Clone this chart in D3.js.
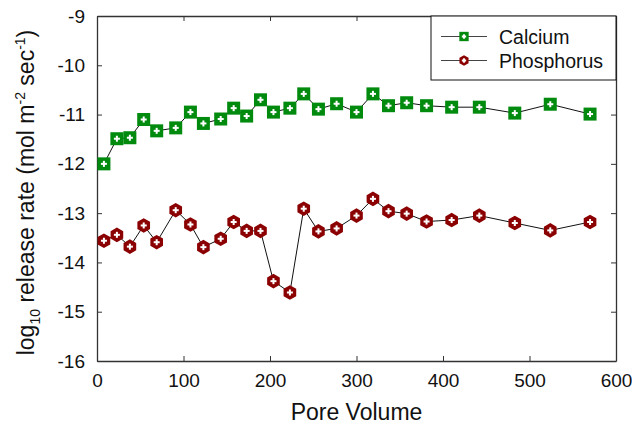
<!DOCTYPE html>
<html>
<head>
<meta charset="utf-8">
<script src="https://cdn.jsdelivr.net/npm/d3@7"></script>
<style>
  body { margin: 0; background: #fff; }
  svg { font-family: "Liberation Sans", Arial, sans-serif; }
</style>
</head>
<body>
<div id="chart"></div>
<script>
// data
var poreVolume = [8, 23, 38, 54, 69, 91, 108, 123, 143, 158, 173, 189, 204, 223, 239, 256, 277, 300, 319, 337, 358, 381, 410, 442, 483, 524, 570];
var calcium = [-12.0, -11.49, -11.47, -11.10, -11.33, -11.27, -10.95, -11.18, -11.09, -10.87, -11.03, -10.70, -10.95, -10.87, -10.58, -10.89, -10.78, -10.95, -10.58, -10.82, -10.76, -10.82, -10.85, -10.85, -10.97, -10.79, -10.99];
var phosphorus = [-13.56, -13.44, -13.68, -13.25, -13.59, -12.94, -13.23, -13.69, -13.52, -13.18, -13.36, -13.36, -14.38, -14.61, -12.91, -13.37, -13.31, -13.05, -12.71, -12.96, -13.01, -13.17, -13.14, -13.05, -13.20, -13.35, -13.18];
var xTicks = [0, 100, 200, 300, 400, 500, 600];
var yTicks = [-16, -15, -14, -13, -12, -11, -10, -9];

// set the dimensions and margins of the graph
var margin = {top: 16, right: 16, bottom: 67, left: 97},
    width = 632 - margin.left - margin.right,
    height = 428 - margin.top - margin.bottom;

var x = d3.scaleLinear().domain([0, 600]).range([0, width]);
var y = d3.scaleLinear().domain([-16, -9]).range([height, 0]);

var svg = d3.select("#chart").append("svg")
    .attr("width", 632)
    .attr("height", 428)
  .append("g")
    .attr("transform", "translate(" + margin.left + "," + margin.top + ")");

var axisColor = "#333";
var plain = function(d) { return String(d); };

// axes, ticks pointing inward
var xAxis = svg.append("g")
    .attr("transform", "translate(0," + height + ")")
    .call(d3.axisBottom(x).tickValues(xTicks).tickFormat(plain).tickSizeInner(-5).tickSizeOuter(0).tickPadding(13));
var xTop = svg.append("g")
    .call(d3.axisTop(x).tickValues(xTicks).tickSizeInner(-5).tickSizeOuter(0).tickFormat(""));
var yAxis = svg.append("g")
    .call(d3.axisLeft(y).tickValues(yTicks).tickFormat(plain).tickSizeInner(-5).tickSizeOuter(0).tickPadding(12));
var yRight = svg.append("g")
    .attr("transform", "translate(" + width + ",0)")
    .call(d3.axisRight(y).tickValues(yTicks).tickSizeInner(-5).tickSizeOuter(0).tickFormat(""));

[xAxis, xTop, yAxis, yRight].forEach(function(a) {
    a.select(".domain").attr("stroke", axisColor).attr("stroke-width", 1.3);
    a.selectAll(".tick line").attr("stroke", axisColor);
    a.selectAll(".tick text").attr("font-size", 19).attr("fill", "#111");
});

// axis titles
svg.append("text")
    .attr("x", width / 2)
    .attr("y", height + 59)
    .attr("text-anchor", "middle")
    .attr("font-size", 23)
    .attr("fill", "#111")
    .text("Pore Volume");

var yt = svg.append("text")
    .attr("transform", "translate(" + (-63) + "," + (height / 2 + 4) + ") rotate(-90)")
    .attr("text-anchor", "middle")
    .attr("font-size", 23)
    .attr("fill", "#111");
yt.append("tspan").text("log");
yt.append("tspan").attr("font-size", 14).attr("dy", 6).text("10");
yt.append("tspan").attr("dy", -6).text(" release rate (mol m");
yt.append("tspan").attr("font-size", 14).attr("dy", -9).text("-2");
yt.append("tspan").attr("dy", 9).text(" sec");
yt.append("tspan").attr("font-size", 14).attr("dy", -9).text("-1");
yt.append("tspan").attr("dy", 9).text(")");

var series = [
    {name: "Calcium", values: calcium, color: "#008a0e", shape: "square"},
    {name: "Phosphorus", values: phosphorus, color: "#8b0000", shape: "hex"}
];

var line = d3.line()
    .x(function(d) { return x(d[0]); })
    .y(function(d) { return y(d[1]); });

function hexPath(r) {
    var pts = d3.range(6).map(function(i) {
        var a = Math.PI / 6 + i * Math.PI / 3;
        return [r * Math.cos(a), r * Math.sin(a)];
    });
    return "M" + pts.join("L") + "Z";
}

function drawMarker(g, s, k) {
    if (s.shape === "square") {
        g.append("rect").attr("x", -6.5 * k).attr("y", -6.5 * k).attr("width", 13 * k).attr("height", 13 * k)
            .attr("fill", s.color);
    } else {
        g.append("path").attr("d", hexPath(7.3 * k)).attr("fill", s.color);
    }
    // white plus in the centre
    g.append("rect").attr("x", -3 * k).attr("y", -1).attr("width", 6 * k).attr("height", 2).attr("fill", "#fff");
    g.append("rect").attr("x", -1).attr("y", -3 * k).attr("width", 2).attr("height", 6 * k).attr("fill", "#fff");
}

series.forEach(function(s) {
    var pts = poreVolume.map(function(v, i) { return [v, s.values[i]]; });
    svg.append("path")
        .datum(pts)
        .attr("fill", "none")
        .attr("stroke", "#111")
        .attr("stroke-width", 1)
        .attr("d", line);
    svg.selectAll(".m-" + s.shape)
        .data(pts)
        .enter().append("g")
        .attr("class", "m-" + s.shape)
        .attr("transform", function(d) { return "translate(" + x(d[0]) + "," + y(d[1]) + ")"; })
        .each(function() { drawMarker(d3.select(this), s, 1); });
});

// legend
var lg = svg.append("g").attr("transform", "translate(" + (width - 185) + ",0)");
lg.append("rect")
    .attr("width", 185).attr("height", 64)
    .attr("fill", "#fff").attr("stroke", "#111").attr("stroke-width", 1);
series.forEach(function(s, i) {
    var row = lg.append("g").attr("transform", "translate(0," + (20.5 + i * 24) + ")");
    row.append("line").attr("x1", 10).attr("x2", 56).attr("stroke", "#444").attr("stroke-width", 1);
    drawMarker(row.append("g").attr("transform", "translate(33,0)"), s, 0.72);
    row.append("text").attr("x", 68).attr("y", 7).attr("font-size", 19.5).attr("fill", "#111").text(s.name);
});
</script>
</body>
</html>
